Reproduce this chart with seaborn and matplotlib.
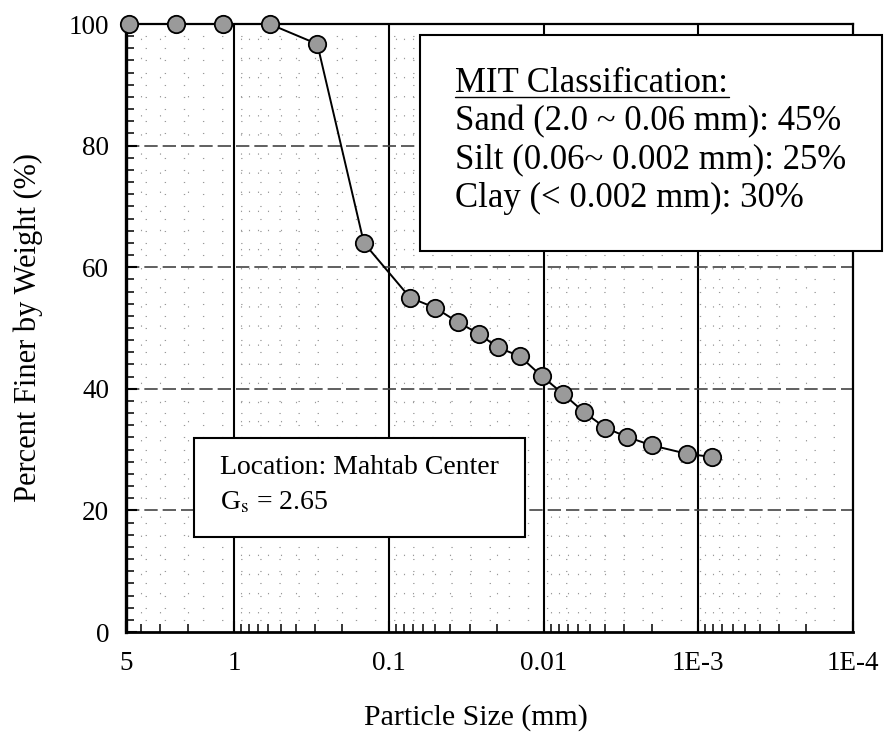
import numpy as np
import pandas as pd
import matplotlib
matplotlib.use("Agg")
import matplotlib.pyplot as plt
import matplotlib.ticker as mticker
from matplotlib.patches import Rectangle
from matplotlib.lines import Line2D
import seaborn as sns

# ------------------------------------------------------
# Data
# ------------------------------------------------------
particle_size_mm = [4.75, 2.36, 1.18, 0.59, 0.29, 0.145,
                    0.073, 0.050, 0.036, 0.026, 0.0198, 0.0143,
                    0.0103, 0.0075, 0.0055, 0.0040, 0.0029, 0.0020,
                    0.00118, 0.00082]
percent_finer = [100, 100, 100, 100, 96.7, 64,
                 55, 53.3, 51, 49, 46.8, 45.4,
                 42.1, 39.2, 36.2, 33.6, 32.1, 30.7,
                 29.3, 28.8]

x_ticks = [5, 1, 0.1, 0.01, 1e-3, 1e-4]
x_tick_labels = ["5", "1", "0.1", "0.01", "1E-3", "1E-4"]
y_ticks = [0, 20, 40, 60, 80, 100]

mit_title = "MIT Classification:"
mit_lines = ["Sand (2.0 ~ 0.06 mm): 45%",
             "Silt (0.06~ 0.002 mm): 25%",
             "Clay (< 0.002 mm): 30%"]
location_lines = ["Location: Mahtab Center", r"G$_\mathrm{s}$ = 2.65"]

df = pd.DataFrame({"size": particle_size_mm, "finer": percent_finer})

# ------------------------------------------------------
# Style
# ------------------------------------------------------
sns.set_theme(style="ticks")
plt.rcParams["font.family"] = ["Liberation Serif", "DejaVu Serif"]
plt.rcParams["mathtext.fontset"] = "stix"
plt.rcParams["text.color"] = "black"
plt.rcParams["axes.labelcolor"] = "black"

W, H = 887, 748
fig = plt.figure(figsize=(W / 100, H / 100), dpi=100)
ax = fig.add_axes([126 / W, 1 - 632 / H, (853 - 126) / W, (632 - 24) / H])

ax.set_xscale("log")

# grid
ax.set_axisbelow(True)
for xv in [1, 0.1, 0.01, 1e-3]:
    ax.axvline(xv, color="black", lw=1.5, zorder=0.5)
for yv in [20, 40, 60, 80]:
    ax.axhline(yv, color="#444444", lw=1.2, ls=(0, (8, 3)), zorder=0.5)
ax.grid(which="minor", color="#999999", lw=0.8, ls=(0, (1.2, 16)))

sns.lineplot(data=df, x="size", y="finer", ax=ax, sort=False, estimator=None,
             color="black", lw=1.4, marker="o", markersize=12.5,
             markerfacecolor="#9a9a9a", markeredgecolor="black",
             markeredgewidth=1.3, clip_on=False, zorder=3)

ax.set_xlim(5, 1e-4)
ax.set_ylim(0, 100)
ax.set_xticks(x_ticks)
ax.set_xticklabels(x_tick_labels)
ax.xaxis.set_minor_locator(mticker.LogLocator(base=10, subs=np.arange(2, 10), numticks=20))
ax.xaxis.set_minor_formatter(mticker.NullFormatter())
ax.set_yticks(y_ticks)
ax.yaxis.set_minor_locator(mticker.MultipleLocator(2))

ax.tick_params(which="major", direction="in", length=8, width=1.5,
               labelsize=19.5, colors="black")
ax.tick_params(axis="x", which="major", pad=14)
ax.tick_params(axis="y", which="major", pad=12)
ax.tick_params(which="minor", direction="in", length=6, width=1.3)

for s in ax.spines.values():
    s.set_color("black")
    s.set_linewidth(1.6)
ax.spines["left"].set_linewidth(2.4)
ax.spines["bottom"].set_linewidth(2.0)

ax.set_xlabel("Particle Size (mm)", fontsize=21.5)
ax.set_ylabel("Percent Finer by Weight (%)", fontsize=22)
ax.xaxis.label.set_va("center")
ax.yaxis.label.set_va("center")
ax.xaxis.set_label_coords((476 - 126) / 727, (632 - 718) / 608)
ax.yaxis.set_label_coords((28 - 126) / 727, 0.5)

# ------------------------------------------------------
# Text boxes (figure pixel positions)
# ------------------------------------------------------
def fx(px):
    return px / W

def fy(py):
    return 1 - py / H

fig.add_artist(Rectangle((fx(420), fy(251)), fx(882) - fx(420), fy(35) - fy(251),
                         transform=fig.transFigure, facecolor="white",
                         edgecolor="black", lw=1.5, zorder=5))
fig.text(fx(455), fy(84), mit_title, fontsize=25, va="center", ha="left", zorder=6)
fig.add_artist(Line2D([fx(455), fx(729)], [fy(97), fy(97)], transform=fig.transFigure,
                      color="black", lw=1.0, zorder=6))
for i, line in enumerate(mit_lines):
    fig.text(fx(455), fy(122 + 38 * i), line, fontsize=25, va="center", ha="left", zorder=6)

fig.add_artist(Rectangle((fx(194), fy(537)), fx(525) - fx(194), fy(438) - fy(537),
                         transform=fig.transFigure, facecolor="white",
                         edgecolor="black", lw=1.5, zorder=5))
fig.text(fx(220), fy(467), location_lines[0], fontsize=20, va="center", ha="left", zorder=6)
fig.text(fx(220), fy(503), location_lines[1], fontsize=20, va="center", ha="left", zorder=6)

fig.savefig("out.png", dpi=100, facecolor="white")
